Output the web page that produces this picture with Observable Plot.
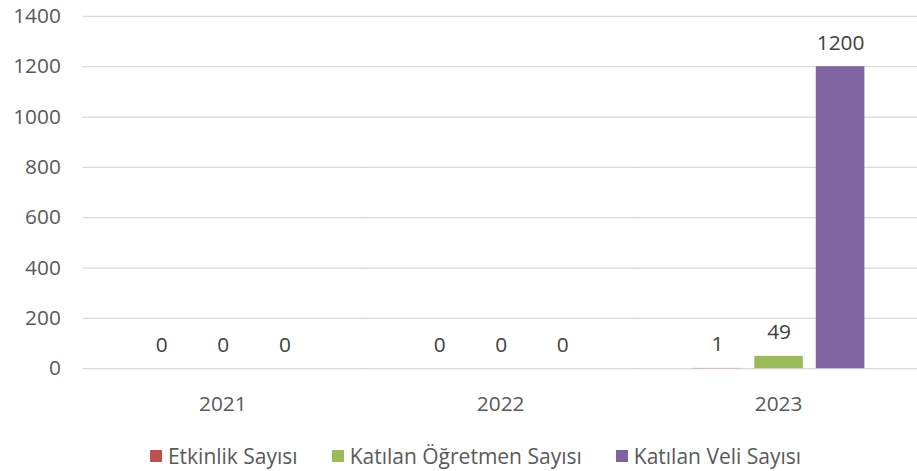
<!DOCTYPE html>
<html><head><meta charset="utf-8">
<script src="https://cdn.jsdelivr.net/npm/d3@7"></script>
<script src="https://cdn.jsdelivr.net/npm/@observablehq/plot@0.6"></script>
<style>
html,body{margin:0;padding:0;background:#fff;}
body{width:917px;height:471px;overflow:hidden;font-family:"Open Sans",sans-serif;}
#chart{width:917px;overflow:hidden;}
#chart svg{display:block;}
.legend{display:flex;justify-content:center;align-items:center;height:30px;margin-top:12px;padding-left:34px;font-size:21px;color:#595959;}
.legend .item{display:flex;align-items:center;margin:0 17px;}
.legend .sw{width:12px;height:12px;margin-right:6px;}
</style></head><body>
<div id="chart"></div>
<script>
const years = ["2021", "2022", "2023"];
const seriesNames = ["Etkinlik Sayısı", "Katılan Öğretmen Sayısı", "Katılan Veli Sayısı"];
const etkinlikSayisi = [0, 0, 1];
const ogretmenSayisi = [0, 0, 49];
const veliSayisi = [0, 0, 1200];
const seriesColors = ["#C0504D", "#9BBB59", "#8064A2"];
const yTicks = [0, 200, 400, 600, 800, 1000, 1200, 1400];

const seriesValues = [etkinlikSayisi, ogretmenSayisi, veliSayisi];
const data = years.flatMap((yr, i) =>
  seriesNames.map((s, j) => ({year: yr, series: s, value: seriesValues[j][i]})));

const W = 924, ML = 84, MR = 0;
const padIn = 0.33, padOut = 0.165;
const step = (W - ML - MR) / (years.length - padIn + 2 * padOut);
const gapHalf = padOut * step; // half the gap between facet groups

const chart = Plot.plot({
  width: W,
  height: 432,
  marginLeft: ML,
  marginRight: MR,
  marginTop: 16,
  marginBottom: 61,
  style: {fontFamily: "Open Sans, sans-serif", fontSize: "21px", color: "#595959", background: "#fff", overflow: "visible"},
  fx: {domain: years, paddingInner: padIn, paddingOuter: padOut, label: null, axis: null},
  x: {domain: seriesNames, paddingInner: 0.216, paddingOuter: 0.108, axis: null},
  y: {domain: [0, 1400], label: null, axis: null},
  color: {domain: seriesNames, range: seriesColors},
  marks: [
    Plot.ruleY(yTicks, {y: d => d, stroke: "#D9D9D9", strokeWidth: 1.3, insetLeft: -gapHalf - 0.5, insetRight: -gapHalf - 0.5}),
    Plot.axisY(yTicks, {tickSize: 0, tickPadding: 23 + gapHalf, tickFormat: d => String(d), label: null, fill: "#595959"}),
    Plot.axisFx({anchor: "bottom", tickSize: 0, tickPadding: 28, label: null, fill: "#595959"}),
    Plot.barY(data, {fx: "year", x: "series", y: "value", fill: "series"}),
    Plot.text(data, {fx: "year", x: "series", y: "value", text: d => String(d.value), dy: -24, lineAnchor: "middle", fill: "#404040"})
  ]
});
document.getElementById("chart").appendChild(chart);

const legend = document.createElement("div");
legend.className = "legend";
seriesNames.forEach((s, i) => {
  const item = document.createElement("div");
  item.className = "item";
  const sw = document.createElement("span");
  sw.className = "sw";
  sw.style.background = seriesColors[i];
  const lab = document.createElement("span");
  lab.textContent = s;
  item.appendChild(sw);
  item.appendChild(lab);
  legend.appendChild(item);
});
document.body.appendChild(legend);
</script>
</body></html>
